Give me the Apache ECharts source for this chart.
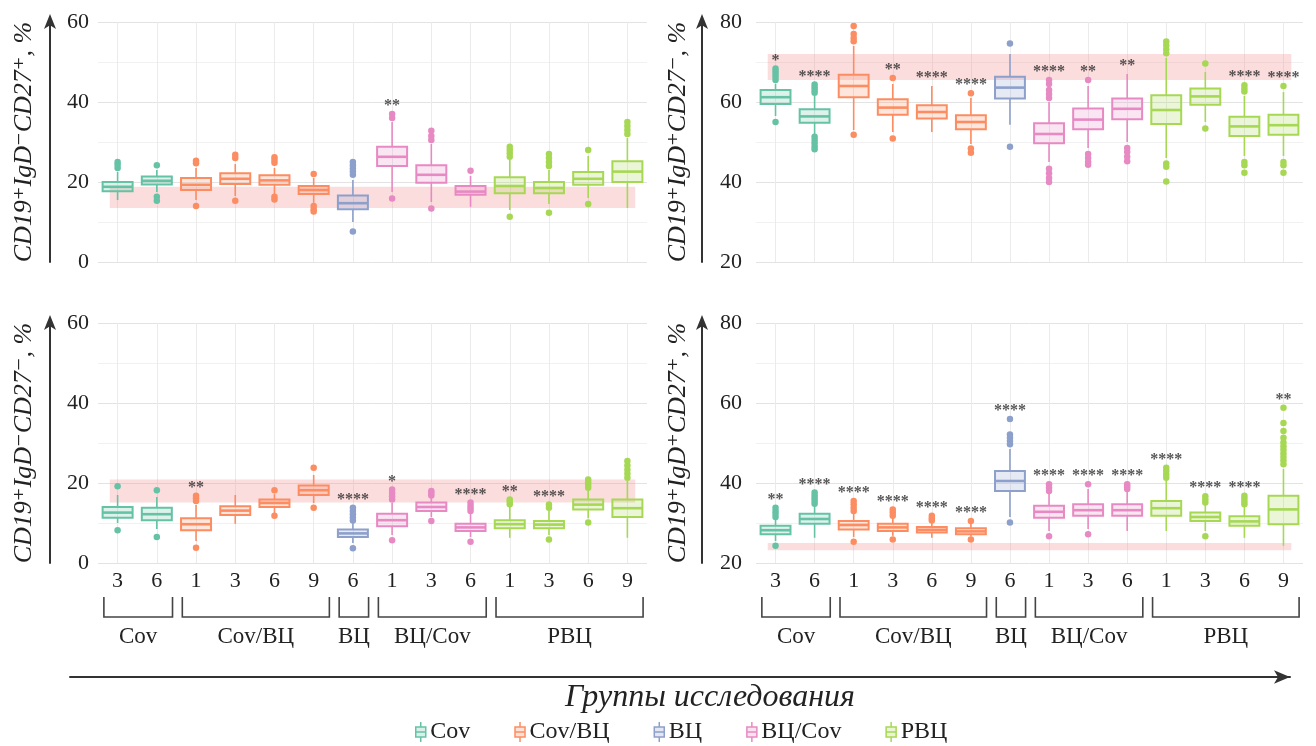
<!DOCTYPE html>
<html>
<head>
<meta charset="utf-8">
<script src="https://cdn.jsdelivr.net/npm/echarts@6/dist/echarts.min.js"></script>
<style>
  html, body { margin: 0; padding: 0; background: #fff; }
  #chart { width: 1316px; height: 746px; }
</style>
</head>
<body>
<div id="chart"></div>
<script>
// Study groups and their colours
const groups = ['Cov', 'Cov/ВЦ', 'ВЦ', 'ВЦ/Cov', 'РВЦ'];
const groupColors = ['#66c2a5', '#fc8d62', '#8da0cb', '#e78ac3', '#a6d854'];

// Time points (months) shown under each box, and the group each belongs to
const categoryGroup = [0, 0, 1, 1, 1, 1, 2, 3, 3, 3, 4, 4, 4, 4];
const categoryMonth = ['3', '6', '1', '3', '6', '9', '6', '1', '3', '6', '1', '3', '6', '9'];
const categories = categoryMonth.map((m, i) => groups[categoryGroup[i]] + ' ' + m);

// Panel A: CD19+IgD-CD27+  —  box stats [min, Q1, median, Q3, max]
const titleA = 'CD19⁺IgD⁻CD27⁺, %';
const boxesA = [
  [15.5, 17.7, 18.8, 20.0, 22.5], [17.5, 19.4, 20.3, 21.4, 23.0],
  [15.5, 18.0, 19.3, 21.0, 23.5], [16.5, 19.5, 20.8, 22.2, 24.5],
  [17.0, 19.3, 20.4, 21.7, 23.5], [14.8, 17.0, 18.0, 19.0, 21.0],
  [10.0, 13.2, 14.7, 16.6, 20.5],
  [17.5, 24.0, 26.3, 28.8, 35.0], [15.0, 19.8, 21.8, 24.2, 29.5], [13.8, 16.8, 17.6, 19.0, 21.5],
  [13.0, 17.2, 19.0, 21.2, 25.5], [14.5, 17.2, 18.5, 20.0, 23.0], [16.0, 19.3, 20.8, 22.5, 26.5], [13.5, 20.0, 22.6, 25.2, 31.0]
];
const outliersA = [
  [23.5, 24.3, 25.0], [24.2, 16.3, 15.3],
  [24.7, 25.3, 14.0], [26.0, 26.8, 15.3],
  [24.8, 25.5, 26.2, 16.3, 15.6], [22.0, 14.0, 13.2, 12.6],
  [21.8, 22.6, 23.4, 24.2, 25.0, 7.6],
  [36.0, 37.0, 15.9], [30.5, 31.5, 32.8, 13.4], [22.8],
  [26.3, 27.2, 28.0, 28.8, 11.3], [24.0, 25.0, 26.0, 27.0, 12.3], [28.0, 14.5], [32.0, 33.0, 34.0, 35.0]
];
const starsA = ['', '', '', '', '', '', '', '**', '', '', '', '', '', ''];
const normA = [13.5, 18.8];

// Panel B: CD19+IgD+CD27-
const titleB = 'CD19⁺IgD⁺CD27⁻, %';
const boxesB = [
  [56.5, 59.5, 61.2, 63.0, 64.5], [52.0, 54.8, 56.4, 58.2, 61.5],
  [53.0, 61.2, 64.0, 66.8, 74.0], [52.5, 56.8, 58.6, 60.7, 64.5],
  [52.5, 55.9, 57.5, 59.2, 64.0], [49.5, 53.2, 55.0, 56.7, 61.0],
  [54.3, 60.9, 63.6, 66.3, 72.0],
  [45.0, 49.7, 52.0, 54.7, 60.0], [48.5, 53.2, 55.6, 58.4, 64.0], [50.0, 55.7, 58.3, 60.9, 67.0],
  [46.0, 54.5, 58.0, 61.7, 71.0], [55.0, 59.3, 61.4, 63.4, 67.5], [46.5, 51.5, 53.9, 56.3, 61.5], [46.5, 51.8, 54.2, 56.8, 62.5]
];
const outliersB = [
  [65.5, 66.3, 67.0, 67.7, 68.4, 55.0], [62.3, 63.0, 63.7, 64.4, 51.3, 50.5, 49.7, 48.9, 48.2],
  [75.2, 76.0, 77.0, 79.0, 51.8], [66.0, 50.9],
  [], [62.2, 48.4, 47.3],
  [74.6, 48.8],
  [61.0, 62.0, 63.0, 64.5, 65.5, 43.3, 42.2, 41.0, 40.0], [65.5, 47.0, 46.0, 45.0, 44.3], [48.5, 47.5, 46.3, 45.2],
  [72.2, 73.2, 74.2, 75.1, 44.6, 43.8, 40.1], [69.6, 53.4], [62.6, 63.4, 64.2, 45.0, 44.2, 42.3], [64.0, 45.0, 44.2, 42.3]
];
const starsB = ['*', '****', '', '**', '****', '****', '', '****', '**', '**', '', '', '****', '****'];
const normB = [65.5, 72.0];

// Panel C: CD19+IgD-CD27-
const titleC = 'CD19⁺IgD⁻CD27⁻, %';
const boxesC = [
  [10.0, 11.3, 12.6, 14.0, 17.0], [8.5, 10.7, 12.2, 13.8, 16.5],
  [5.5, 8.2, 9.7, 11.2, 14.5], [9.8, 12.0, 13.1, 14.2, 17.0],
  [12.5, 14.0, 15.0, 15.9, 17.2], [15.0, 17.0, 18.2, 19.4, 22.0],
  [5.0, 6.5, 7.4, 8.4, 10.0],
  [7.0, 9.2, 10.7, 12.3, 15.0], [11.5, 13.0, 14.0, 15.1, 16.5], [6.5, 8.0, 8.9, 9.8, 12.5],
  [6.3, 8.7, 9.7, 10.7, 14.0], [7.0, 8.7, 9.6, 10.5, 13.0], [11.2, 13.4, 14.6, 15.9, 18.0], [6.3, 11.5, 13.7, 15.9, 20.5]
];
const outliersC = [
  [19.2, 8.2], [18.2, 6.5],
  [15.5, 16.2, 16.8, 3.8], [],
  [18.2, 11.8], [23.8, 13.8],
  [10.6, 11.4, 12.2, 13.0, 13.8, 3.7],
  [15.9, 16.7, 17.5, 18.4, 5.7], [16.9, 17.5, 18.0, 10.5], [13.0, 13.7, 14.4, 15.1, 5.3],
  [14.7, 15.3, 15.9], [13.8, 14.6, 5.9], [18.8, 19.5, 20.2, 20.9, 10.1], [21.3, 22.3, 23.3, 24.4, 25.5]
];
const starsC = ['', '', '**', '', '', '', '****', '*', '', '****', '**', '****', '', ''];
const normC = [15.1, 20.9];

// Panel D: CD19+IgD+CD27+
const titleD = 'CD19⁺IgD⁺CD27⁺, %';
const boxesD = [
  [25.5, 27.2, 28.2, 29.3, 31.0], [26.3, 29.8, 31.0, 32.3, 34.5],
  [26.5, 28.4, 29.5, 30.5, 32.5], [26.8, 28.0, 28.9, 29.8, 31.5],
  [26.3, 27.6, 28.3, 29.0, 30.3], [26.6, 27.2, 27.9, 28.7, 30.0],
  [31.5, 38.0, 40.5, 43.0, 48.5],
  [28.0, 31.3, 32.8, 34.3, 37.5], [28.5, 31.8, 33.2, 34.7, 38.5], [28.0, 31.8, 33.2, 34.7, 38.0],
  [28.0, 31.8, 33.7, 35.5, 40.5], [28.0, 30.5, 31.5, 32.6, 34.5], [26.3, 29.3, 30.4, 31.7, 34.3], [24.3, 29.7, 33.4, 36.8, 43.5]
];
const outliersD = [
  [31.5, 32.3, 33.0, 33.8, 24.3], [34.8, 35.5, 36.2, 36.9, 37.6],
  [33.0, 33.8, 34.7, 35.5, 25.3], [31.8, 32.6, 33.4, 25.9],
  [30.6, 31.2, 31.8], [30.5, 25.9],
  [49.7, 50.5, 51.3, 52.1, 56.0, 30.1],
  [38.0, 38.8, 39.7, 26.7], [39.7, 27.2], [38.5, 39.1, 39.7],
  [41.3, 42.1, 43.0, 43.8], [35.1, 35.9, 36.7, 26.7], [34.7, 35.4, 36.1, 36.8],
  [44.7, 45.6, 46.5, 47.4, 48.3, 49.2, 50.1, 51.3, 53.0, 55.0, 58.8]
];
const starsD = ['**', '****', '****', '****', '****', '****', '****', '****', '****', '****', '****', '****', '****', '**'];
const normD = [23.2, 25.0];

// Y-axis ranges and tick step
const yRanges = [[0, 60], [20, 80], [0, 60], [20, 80]];
const yStep = 20;

const panels = [
  { title: titleA, boxes: boxesA, outliers: outliersA, stars: starsA, norm: normA },
  { title: titleB, boxes: boxesB, outliers: outliersB, stars: starsB, norm: normB },
  { title: titleC, boxes: boxesC, outliers: outliersC, stars: starsC, norm: normC },
  { title: titleD, boxes: boxesD, outliers: outliersD, stars: starsD, norm: normD }
];

// ---- layout / styling ----
const FONT = '"Liberation Serif", "DejaVu Serif", serif';
const TEXT = '#222';
const BOX_RATIO = 0.765;
const grids = [
  { left: 98, top: 22, width: 549, height: 240 },
  { left: 756, top: 22, width: 547, height: 240 },
  { left: 98, top: 323, width: 549, height: 240 },
  { left: 756, top: 323, width: 547, height: 240 },
  { left: 70, top: 676, right: 26, height: 1 }          // long "groups" arrow
];
const arrowOffsets = [48, 54, 48, 54];
const labelMargins = [9, 14, 9, 14];
const nameGaps = [13, 11, 13, 11];

function tint(hex, a) {
  const n = parseInt(hex.slice(1), 16);
  return 'rgba(' + (n >> 16) + ',' + ((n >> 8) & 255) + ',' + (n & 255) + ',' + a + ')';
}

function boxRenderer(color) {
  return function (params, api) {
    const idx = api.value(0);
    const x = api.coord([idx, api.value(1)])[0];
    const yMin = api.coord([idx, api.value(1)])[1];
    const yQ1 = api.coord([idx, api.value(2)])[1];
    const yMed = api.coord([idx, api.value(3)])[1];
    const yQ3 = api.coord([idx, api.value(4)])[1];
    const yMax = api.coord([idx, api.value(5)])[1];
    const w = api.size([1, 0])[0] * BOX_RATIO;
    const line = { stroke: color, lineWidth: 1.6 };
    return {
      type: 'group',
      children: [
        { type: 'line', shape: { x1: x, y1: yMax, x2: x, y2: yQ3 }, style: line },
        { type: 'line', shape: { x1: x, y1: yQ1, x2: x, y2: yMin }, style: line },
        { type: 'rect', shape: { x: x - w / 2, y: yQ3, width: w, height: yQ1 - yQ3 },
          style: { fill: tint(color, 0.22), stroke: color, lineWidth: 2 } },
        { type: 'line', shape: { x1: x - w / 2, y1: yMed, x2: x + w / 2, y2: yMed },
          style: { stroke: color, lineWidth: 2.6 } }
      ]
    };
  };
}

function renderBand(params, api) {
  const bw = api.size([1, 0])[0];
  const p0 = api.coord([api.value(0), api.value(3)]);
  const p1 = api.coord([api.value(1), api.value(2)]);
  return {
    type: 'rect',
    shape: { x: p0[0] - bw * 0.2, y: p0[1], width: p1[0] - p0[0] + bw * 0.4, height: p1[1] - p0[1] },
    style: { fill: 'rgba(244,150,150,0.32)' }
  };
}

// group brackets under the month labels
const bracketData = groups.map((g, gi) => {
  const idx = categoryGroup.map((v, i) => (v === gi ? i : -1)).filter(i => i >= 0);
  return [idx[0], idx[idx.length - 1], gi];
});
function renderBracket(params, api) {
  const bw = api.size([1, 0])[0];
  const cs = params.coordSys;
  const yb = cs.y + cs.height;
  const xl = api.coord([api.value(0), 0])[0] - bw * 0.35;
  const xr = api.coord([api.value(1), 0])[0] + bw * 0.4;
  return {
    type: 'group',
    children: [
      { type: 'polyline', shape: { points: [[xl, yb + 34], [xl, yb + 54], [xr, yb + 54], [xr, yb + 34]] },
        style: { stroke: '#444', lineWidth: 1.6, fill: null } },
      { type: 'text', style: { text: groups[api.value(2)], x: (xl + xr) / 2, y: yb + 74,
        align: 'center', verticalAlign: 'middle', font: '23px ' + FONT, fill: TEXT } }
    ]
  };
}

const xAxes = [];
const yAxes = [];
const series = [];

panels.forEach((p, pi) => {
  const [ymin, ymax] = yRanges[pi];
  const bottomRow = pi >= 2;
  xAxes.push({
    gridIndex: pi, type: 'category', data: categories, boundaryGap: true,
    axisLine: { show: false }, axisTick: { show: false, alignWithLabel: true },
    splitLine: { show: true, alignWithLabel: true, lineStyle: { color: '#ebebeb' } },
    axisLabel: { show: bottomRow, interval: 0, formatter: (v, i) => categoryMonth[i],
      fontSize: 22, margin: 7, color: TEXT, fontFamily: FONT }
  });
  yAxes.push({
    gridIndex: pi, type: 'value', min: ymin, max: ymax, interval: yStep,
    axisLine: { show: false }, axisTick: { show: false },
    axisLabel: { fontSize: 22, color: TEXT, fontFamily: FONT, margin: labelMargins[pi] },
    splitLine: { show: true, lineStyle: { color: '#e3e3e3' } },
    minorTick: { show: false, splitNumber: 2 },
    minorSplitLine: { show: true, lineStyle: { color: '#f1f1f1' } }
  });
  yAxes.push({
    gridIndex: pi, type: 'value', min: ymin, max: ymax, interval: yStep, position: 'left',
    offset: arrowOffsets[pi],
    axisLine: { show: true, symbol: ['none', 'arrow'], symbolSize: [9, 15], symbolOffset: [0, 8],
      lineStyle: { color: '#333', width: 2 } },
    axisTick: { show: false }, axisLabel: { show: false }, splitLine: { show: false },
    name: p.title, nameLocation: 'middle', nameRotate: 90, nameGap: nameGaps[pi],
    nameTextStyle: { fontSize: 26, fontStyle: 'italic', fontFamily: FONT, color: TEXT }
  });

  const yIdx = pi * 2;

  // reference range band
  series.push({
    type: 'custom', xAxisIndex: pi, yAxisIndex: yIdx, z: 1, silent: true,
    renderItem: renderBand, encode: { x: [0, 1], y: [2, 3] },
    data: [[0, categories.length - 1, p.norm[0], p.norm[1]]]
  });

  groups.forEach((g, gi) => {
    const idxs = categoryGroup.map((v, i) => (v === gi ? i : -1)).filter(i => i >= 0);
    series.push({
      name: g, type: 'custom', xAxisIndex: pi, yAxisIndex: yIdx, z: 3,
      itemStyle: { color: groupColors[gi] },
      renderItem: boxRenderer(groupColors[gi]),
      encode: { x: 0, y: [1, 2, 3, 4, 5] },
      data: idxs.map(i => [i].concat(p.boxes[i]))
    });
    const pts = [];
    idxs.forEach(i => p.outliers[i].forEach(v => pts.push([i, v])));
    series.push({
      name: g, type: 'scatter', xAxisIndex: pi, yAxisIndex: yIdx, z: 4,
      symbolSize: 6.5, itemStyle: { color: groupColors[gi], opacity: 1 },
      data: pts
    });
  });

  // significance marks above the highest point of each box
  const starPts = [];
  p.stars.forEach((s, i) => {
    if (!s) return;
    const top = Math.max(p.boxes[i][4], ...p.outliers[i]);
    starPts.push({ value: [i, top], label: { formatter: s } });
  });
  series.push({
    type: 'scatter', xAxisIndex: pi, yAxisIndex: yIdx, z: 5, silent: true,
    symbolSize: 0, data: starPts,
    label: { show: true, position: 'top', distance: 0, fontSize: 16, fontWeight: 'bold',
      color: '#2a2a2a', fontFamily: FONT }
  });

  if (bottomRow) {
    series.push({
      type: 'custom', xAxisIndex: pi, yAxisIndex: yIdx, silent: true, clip: false, z: 2,
      renderItem: renderBracket, encode: { x: [0, 1] },
      data: bracketData.map(b => [b[0], b[1], b[2]])
    });
  }
});

// long horizontal arrow "groups of the study"
xAxes.push({
  gridIndex: 4, type: 'value', min: 0, max: 1,
  axisLine: { show: true, symbol: ['none', 'arrow'], symbolSize: [10, 16], lineStyle: { color: '#333', width: 2 } },
  axisTick: { show: false }, axisLabel: { show: false }, splitLine: { show: false }
});
yAxes.push({ gridIndex: 4, type: 'value', show: false, min: 0, max: 1 });

const BOX_ICON = 'path://M6,0V5M1,5H11V15H1ZM1,10H11M6,15V20';

const option = {
  backgroundColor: '#fff',
  animation: false,
  title: {
    text: 'Группы исследования', left: 705, top: 677, textAlign: 'center',
    textStyle: { fontFamily: FONT, fontStyle: 'italic', fontWeight: 'normal', fontSize: 32, color: TEXT }
  },
  legend: {
    left: 410, top: 715, itemGap: 44, itemWidth: 13, itemHeight: 20,
    textStyle: { fontFamily: FONT, fontSize: 24, color: TEXT, padding: [0, 0, 0, -2] },
    data: groups.map((g, i) => ({
      name: g, icon: BOX_ICON,
      itemStyle: { color: tint(groupColors[i], 0.25), borderColor: groupColors[i], borderWidth: 1.5 }
    }))
  },
  grid: grids,
  xAxis: xAxes,
  yAxis: yAxes,
  series: series
};

const chart = echarts.init(document.getElementById('chart'), null, { renderer: 'canvas' });
chart.setOption(option);
</script>
</body>
</html>
